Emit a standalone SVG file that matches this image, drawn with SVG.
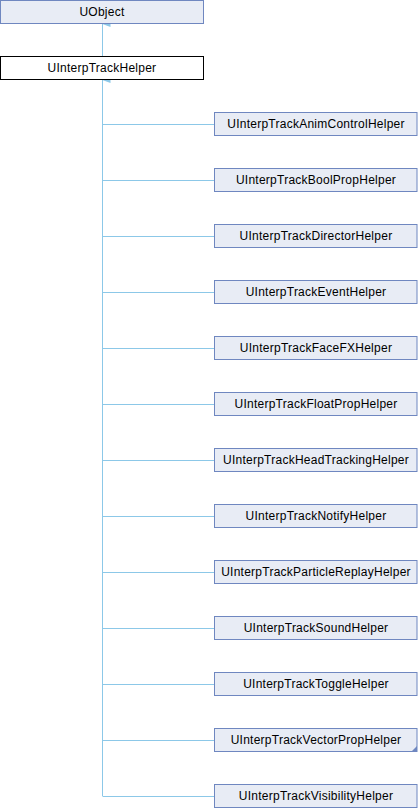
<svg xmlns="http://www.w3.org/2000/svg" width="418" height="808" viewBox="0 0 418 808">
<defs>
<style>
.n rect{fill:#e8ecf5;stroke:#6f87c0;stroke-width:1}
.hl rect{fill:#ffffff;stroke:#000000;stroke-width:1}
text{font-family:"Liberation Sans",Arial,sans-serif;font-size:12px;letter-spacing:0.25px;fill:#000;text-anchor:middle}
.e{stroke:#8cc8e8;stroke-width:1;fill:none}
</style>
<marker id="ah" viewBox="0 0 6 8" refX="3" refY="0" markerWidth="6" markerHeight="8" markerUnits="userSpaceOnUse" orient="auto-start-reverse">
<path d="M3,0 L6,8 L0,8 Z" fill="#8cc8e8"/>
</marker>
</defs>
<rect width="418" height="808" fill="#ffffff"/>
<g id="connectors">
<path class="e" d="M102.5,56 V24" marker-end="url(#ah)"/>
<path class="e" d="M102.5,796 V80" marker-end="url(#ah)"/>
<path class="e" d="M102.5,124.5 H214"/>
<path class="e" d="M102.5,180.5 H214"/>
<path class="e" d="M102.5,236.5 H214"/>
<path class="e" d="M102.5,292.5 H214"/>
<path class="e" d="M102.5,348.5 H214"/>
<path class="e" d="M102.5,404.5 H214"/>
<path class="e" d="M102.5,460.5 H214"/>
<path class="e" d="M102.5,516.5 H214"/>
<path class="e" d="M102.5,572.5 H214"/>
<path class="e" d="M102.5,628.5 H214"/>
<path class="e" d="M102.5,684.5 H214"/>
<path class="e" d="M102.5,740.5 H214"/>
<path class="e" d="M102.5,796.5 H214"/>
</g>
<g id="UObject" class="n"><rect x="0.5" y="0.5" width="203" height="23"/><text x="102" y="15.5">UObject</text></g>
<g id="UInterpTrackHelper" class="hl"><rect x="0.5" y="56.5" width="203" height="23"/><text x="102" y="71.5">UInterpTrackHelper</text></g>
<g id="AnimControl" class="n"><rect x="214.5" y="112.5" width="202.5" height="23"/><text x="316" y="127.5">UInterpTrackAnimControlHelper</text></g>
<g id="BoolProp" class="n"><rect x="214.5" y="168.5" width="202.5" height="23"/><text x="316" y="183.5">UInterpTrackBoolPropHelper</text></g>
<g id="Director" class="n"><rect x="214.5" y="224.5" width="202.5" height="23"/><text x="316" y="239.5">UInterpTrackDirectorHelper</text></g>
<g id="Event" class="n"><rect x="214.5" y="280.5" width="202.5" height="23"/><text x="316" y="295.5">UInterpTrackEventHelper</text></g>
<g id="FaceFX" class="n"><rect x="214.5" y="336.5" width="202.5" height="23"/><text x="316" y="351.5">UInterpTrackFaceFXHelper</text></g>
<g id="FloatProp" class="n"><rect x="214.5" y="392.5" width="202.5" height="23"/><text x="316" y="407.5">UInterpTrackFloatPropHelper</text></g>
<g id="HeadTracking" class="n"><rect x="214.5" y="448.5" width="202.5" height="23"/><text x="316" y="463.5">UInterpTrackHeadTrackingHelper</text></g>
<g id="Notify" class="n"><rect x="214.5" y="504.5" width="202.5" height="23"/><text x="316" y="519.5">UInterpTrackNotifyHelper</text></g>
<g id="ParticleReplay" class="n"><rect x="214.5" y="560.5" width="202.5" height="23"/><text x="316" y="575.5">UInterpTrackParticleReplayHelper</text></g>
<g id="Sound" class="n"><rect x="214.5" y="616.5" width="202.5" height="23"/><text x="316" y="631.5">UInterpTrackSoundHelper</text></g>
<g id="Toggle" class="n"><rect x="214.5" y="672.5" width="202.5" height="23"/><text x="316" y="687.5">UInterpTrackToggleHelper</text></g>
<g id="VectorProp" class="n"><rect x="214.5" y="728.5" width="202.5" height="23"/><text x="316" y="743.5">UInterpTrackVectorPropHelper</text><polygon points="417,746 417,752 411,752" fill="#6f87c0"/></g>
<g id="Visibility" class="n"><rect x="214.5" y="784.5" width="202.5" height="23"/><text x="316" y="799.5">UInterpTrackVisibilityHelper</text></g>
</svg>
